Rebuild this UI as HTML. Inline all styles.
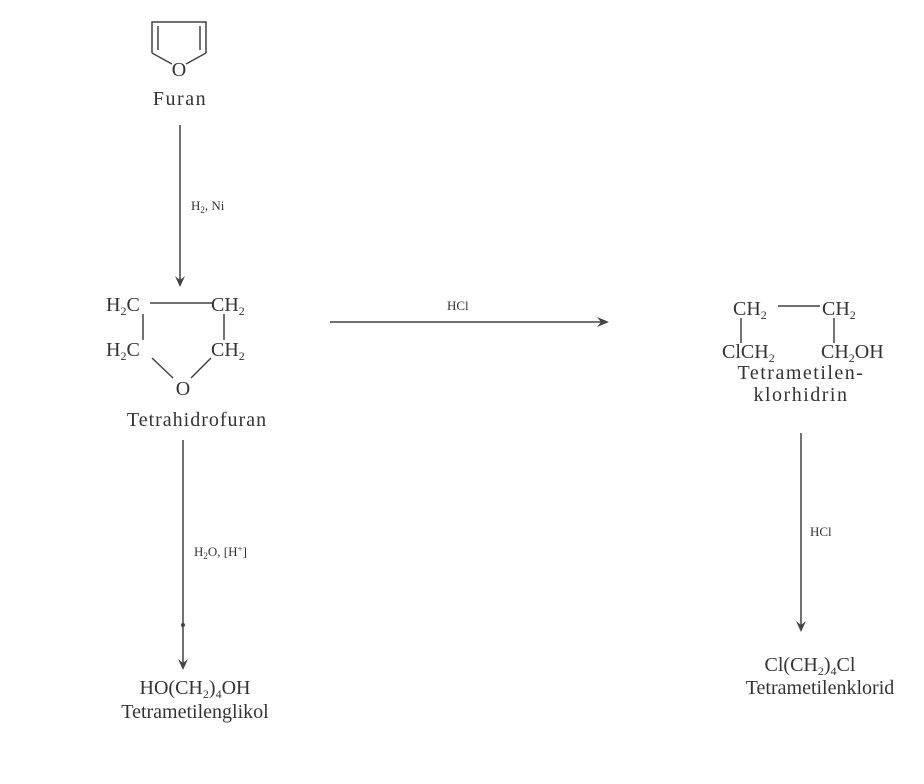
<!DOCTYPE html>
<html><head><meta charset="utf-8"><style>
html,body{margin:0;padding:0;background:#fff;}
svg{display:block;}
text{font-family:"Liberation Serif",serif;fill:#333;}
.b{font-size:20px;}
.w{letter-spacing:1.5px;}
.s{font-size:13px;}
</style></head><body>
<svg width="924" height="784" viewBox="0 0 924 784" xmlns="http://www.w3.org/2000/svg">
<g stroke="#444" stroke-width="1.5" fill="none">
<polyline points="152,53 152,22 206,22 206,53"/>
<line x1="158" y1="26" x2="158" y2="50"/>
<line x1="200" y1="26" x2="200" y2="50"/>
<line x1="152" y1="53" x2="172" y2="64"/>
<line x1="206" y1="53" x2="186" y2="64"/>
<line x1="180" y1="125" x2="180" y2="284"/>
<line x1="150" y1="303" x2="212" y2="303"/>
<line x1="143" y1="314" x2="143" y2="340"/>
<line x1="224" y1="314" x2="224" y2="340"/>
<line x1="152" y1="358" x2="173" y2="378"/>
<line x1="211" y1="358" x2="191" y2="378"/>
<line x1="183" y1="440" x2="183" y2="667"/>
<line x1="330" y1="322" x2="606" y2="322"/>
<line x1="778" y1="306" x2="820" y2="306"/>
<line x1="741" y1="318" x2="741" y2="343"/>
<line x1="834" y1="318" x2="834" y2="343"/>
<line x1="801" y1="433" x2="801" y2="629"/>
</g>
<g fill="#444">
<polygon points="175,276 180,287 185,276 180,280"/>
<polygon points="178,659 183,670 188,659 183,663"/>
<polygon points="597,317 609,322 597,327 601,322"/>
<polygon points="796,621 801,632 806,621 801,625"/>
<circle cx="183" cy="625" r="2"/>
</g>
<text class="b" x="179" y="76" text-anchor="middle">O</text>
<text class="b w" x="180" y="105" text-anchor="middle">Furan</text>
<text class="s" x="191" y="210">H<tspan font-size="9" dy="3">2</tspan><tspan dy="-3">, Ni</tspan></text>
<text class="b" x="106" y="311">H<tspan font-size="12" dy="4">2</tspan><tspan dy="-4">C</tspan></text>
<text class="b" x="211" y="311">CH<tspan font-size="12" dy="4">2</tspan></text>
<text class="b" x="106" y="356">H<tspan font-size="12" dy="4">2</tspan><tspan dy="-4">C</tspan></text>
<text class="b" x="211" y="356">CH<tspan font-size="12" dy="4">2</tspan></text>
<text class="b" x="183" y="395" text-anchor="middle">O</text>
<text class="b" x="197" y="426" text-anchor="middle" style="letter-spacing:1px">Tetrahidrofuran</text>
<text class="s" x="194" y="556">H<tspan font-size="9" dy="3">2</tspan><tspan dy="-3">O, [H</tspan><tspan font-size="9" dy="-4">+</tspan><tspan dy="4">]</tspan></text>
<text class="b" x="195" y="694" text-anchor="middle">HO(CH<tspan font-size="12" dy="4">2</tspan><tspan dy="-4">)</tspan><tspan font-size="12" dy="4">4</tspan><tspan dy="-4">OH</tspan></text>
<text class="b" x="195" y="718" text-anchor="middle">Tetrametilenglikol</text>
<text class="s" x="447" y="310">HCl</text>
<text class="b" x="733" y="315">CH<tspan font-size="12" dy="4">2</tspan></text>
<text class="b" x="822" y="315">CH<tspan font-size="12" dy="4">2</tspan></text>
<text class="b" x="722" y="358">ClCH<tspan font-size="12" dy="4">2</tspan></text>
<text class="b" x="821" y="358">CH<tspan font-size="12" dy="4">2</tspan><tspan dy="-4">OH</tspan></text>
<text class="b w" x="801" y="379" text-anchor="middle">Tetrametilen-</text>
<text class="b w" x="801" y="401" text-anchor="middle">klorhidrin</text>
<text class="s" x="810" y="536">HCl</text>
<text class="b" x="810" y="671" text-anchor="middle">Cl(CH<tspan font-size="12" dy="4">2</tspan><tspan dy="-4">)</tspan><tspan font-size="12" dy="4">4</tspan><tspan dy="-4">Cl</tspan></text>
<text class="b" x="820" y="694" text-anchor="middle">Tetrametilenklorid</text>
</svg>
</body></html>
